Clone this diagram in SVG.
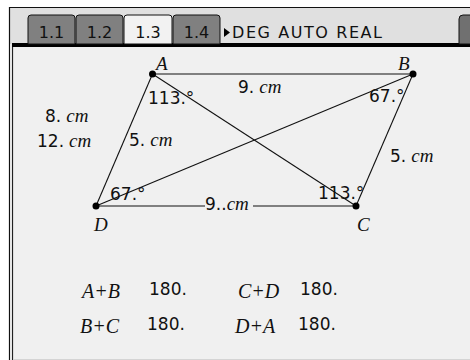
<svg xmlns="http://www.w3.org/2000/svg" width="470" height="360" viewBox="0 0 470 360">
<style>
.v{font-family:"Liberation Serif","DejaVu Serif",serif;font-style:italic;font-size:19px;fill:#111}
.u{font-family:"Liberation Serif","DejaVu Serif",serif;font-style:italic;font-size:20px;fill:#111}
.n{font-family:"DejaVu Sans","Liberation Sans",sans-serif;font-size:17px;fill:#111}
.tab{font-family:"DejaVu Sans","Liberation Sans",sans-serif;font-size:16px;fill:#111;text-anchor:middle}
.hd{font-family:"DejaVu Sans","Liberation Sans",sans-serif;font-size:16px;fill:#111}
.ln{stroke:#111;stroke-width:1.1;fill:none}
.pt{fill:#000}
</style>
<rect x="0" y="0" width="470" height="360" fill="#ffffff"/>
<rect x="9" y="7" width="461" height="353" fill="#f0f0f0"/>
<rect x="10" y="8" width="460" height="36" fill="#e0e0e0"/>
<line x1="9" y1="7.5" x2="470" y2="7.5" stroke="#111" stroke-width="1.2"/>
<line x1="9.5" y1="7" x2="9.5" y2="360" stroke="#111" stroke-width="1.2"/>
<line x1="12.5" y1="44" x2="12.5" y2="360" stroke="#222" stroke-width="1.2"/>
<rect x="10" y="44" width="2" height="316" fill="#e6e6e6"/>
<rect x="12" y="43" width="458" height="4" fill="#000"/>
<line x1="13" y1="359.5" x2="470" y2="359.5" stroke="#d4d4d4"/>
<g id="tabs">
<path d="M28 44 V18 Q28 15 31 15 H72 Q75 15 75 18 V44 Z" fill="#808080" stroke="#111" stroke-width="1"/>
<text class="tab" x="51.5" y="38">1.1</text>
<path d="M76 44 V18 Q76 15 79 15 H120 Q123 15 123 18 V44 Z" fill="#808080" stroke="#111" stroke-width="1"/>
<text class="tab" x="99.5" y="38">1.2</text>
<path d="M124 44 V18 Q124 15 127 15 H169 Q172 15 172 18 V44 Z" fill="#f2f2f2" stroke="#111" stroke-width="1"/>
<text class="tab" x="148" y="38">1.3</text>
<path d="M173 44 V18 Q173 15 176 15 H217 Q220 15 220 18 V44 Z" fill="#808080" stroke="#111" stroke-width="1"/>
<text class="tab" x="196.5" y="38">1.4</text>
<path d="M224 28 L230 32.5 L224 37 Z" fill="#000"/>
<text class="hd" x="232" y="38" textLength="150" lengthAdjust="spacing">DEG AUTO REAL</text>
<path d="M459 44 V19 Q459 15 463 15 H471 V44 Z" fill="#707070" stroke="#111" stroke-width="1"/>
</g>
<g id="connectors">
<line class="ln" x1="152.5" y1="74" x2="413" y2="74"/>
<line class="ln" x1="152.5" y1="74" x2="96" y2="206"/>
<line class="ln" x1="413" y1="74" x2="356" y2="206"/>
<line class="ln" x1="96" y1="206" x2="205" y2="206"/>
<line class="ln" x1="253" y1="206" x2="356" y2="206"/>
<line class="ln" x1="152.5" y1="74" x2="356" y2="206"/>
<line class="ln" x1="413" y1="74" x2="96" y2="206"/>
</g>
<g id="A"><circle class="pt" cx="152.5" cy="74" r="3.5"/><text class="v" x="156" y="70">A</text></g>
<g id="B"><circle class="pt" cx="413" cy="74" r="3.5"/><text class="v" x="398" y="70">B</text></g>
<g id="C"><circle class="pt" cx="356" cy="206" r="3.5"/><text class="v" x="357" y="231">C</text></g>
<g id="D"><circle class="pt" cx="96" cy="206" r="3.5"/><text class="v" x="94" y="231">D</text></g>
<g id="labels">
<text x="238" y="93"><tspan class="n">9.</tspan><tspan class="v" dx="5">cm</tspan></text>
<text class="n" x="148" y="104">113.°</text>
<text class="n" x="369" y="102">67.°</text>
<text x="45" y="122"><tspan class="n">8.</tspan><tspan class="v" dx="5">cm</tspan></text>
<text x="37" y="147"><tspan class="n">12.</tspan><tspan class="v" dx="5">cm</tspan></text>
<text x="129" y="146"><tspan class="n">5.</tspan><tspan class="v" dx="5">cm</tspan></text>
<text x="390" y="162"><tspan class="n">5.</tspan><tspan class="v" dx="5">cm</tspan></text>
<text class="n" x="110" y="200">67.°</text>
<text x="205" y="210"><tspan class="n">9..</tspan><tspan class="v">cm</tspan></text>
<text class="n" x="318" y="199">113.°</text>
<text class="u" x="82" y="298">A+B</text>
<text class="n" x="149" y="295">180.</text>
<text class="u" x="238" y="298">C+D</text>
<text class="n" x="300" y="295">180.</text>
<text class="u" x="80" y="333">B+C</text>
<text class="n" x="147" y="330">180.</text>
<text class="u" x="235" y="333">D+A</text>
<text class="n" x="298" y="330">180.</text>
</g>
</svg>
